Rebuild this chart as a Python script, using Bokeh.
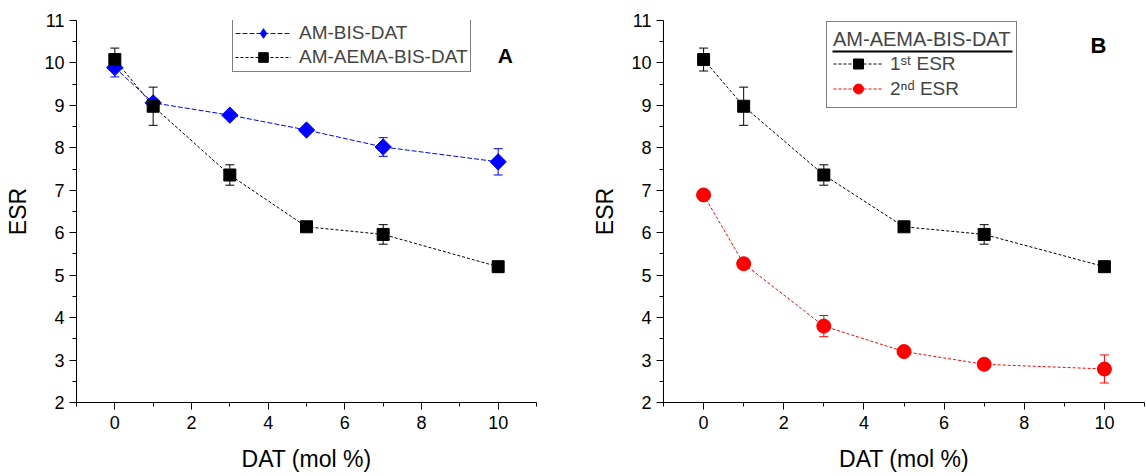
from bokeh.plotting import figure
from bokeh.layouts import row
from bokeh.models import (ColumnDataSource, Whisker, FixedTicker, Range1d, Legend,
                          LegendItem, Label, BoxAnnotation, TeeHead)
from bokeh.embed import file_html
from bokeh.resources import INLINE

# ---------------- data ----------------
dat = [0, 1, 3, 5, 7, 10]

bis_esr = [9.89, 9.06, 8.77, 8.42, 8.02, 7.67]
bis_err = [0.22, 0.10, 0.07, 0.08, 0.22, 0.31]

aema_esr = [10.08, 8.98, 7.36, 6.14, 5.96, 5.20]
aema_err = [0.27, 0.45, 0.24, 0.10, 0.23, 0.12]

second_esr = [6.89, 5.27, 3.80, 3.20, 2.90, 2.79]
second_err = [0.08, 0.10, 0.25, 0.08, 0.06, 0.33]

x_major = [0, 2, 4, 6, 8, 10]
x_minor = [-1, 1, 3, 5, 7, 9, 11]
y_major = [2, 3, 4, 5, 6, 7, 8, 9, 10, 11]
y_minor = [2.5, 3.5, 4.5, 5.5, 6.5, 7.5, 8.5, 9.5, 10.5]

FONT = "Liberation Sans"


def src(vals, errs):
    return ColumnDataSource(dict(
        x=dat, y=vals,
        upper=[v + e for v, e in zip(vals, errs)],
        lower=[v - e for v, e in zip(vals, errs)],
    ))


def make_fig(width, height, bl, br, bt, bb):
    p = figure(width=width, height=height, x_range=Range1d(-1, 11), y_range=Range1d(2, 11),
               output_backend="svg", toolbar_location=None,
               min_border_left=bl, min_border_right=br, min_border_top=bt, min_border_bottom=bb,
               x_axis_label="DAT (mol %)", y_axis_label="ESR")
    p.outline_line_color = None
    p.grid.visible = False
    p.background_fill_color = "white"
    p.border_fill_color = "white"
    p.xaxis.ticker = FixedTicker(ticks=x_major, minor_ticks=x_minor)
    p.yaxis.ticker = FixedTicker(ticks=y_major, minor_ticks=y_minor)
    for ax in (p.xaxis, p.yaxis):
        ax.axis_line_color = "black"
        ax.axis_line_width = 1
        ax.major_tick_line_color = "black"
        ax.minor_tick_line_color = "black"
        ax.major_tick_in = 0
        ax.minor_tick_in = 0
        ax.major_label_text_font = FONT
        ax.major_label_text_font_size = "18px"
        ax.major_label_text_color = "black"
        ax.axis_label_text_font = FONT
        ax.axis_label_text_font_size = "23px"
        ax.axis_label_text_font_style = "normal"
        ax.axis_label_text_color = "black"
        ax.axis_label_text_line_height = 1.0
        ax.major_label_text_line_height = 1.0
    p.xaxis.major_tick_out = 7
    p.xaxis.minor_tick_out = 4
    p.yaxis.major_tick_out = 7
    p.yaxis.minor_tick_out = 4
    p.xaxis.major_label_standoff = 6
    p.yaxis.major_label_standoff = 5
    p.xaxis.axis_label_standoff = 14
    p.yaxis.axis_label_standoff = 10
    return p


def series(p, s, color, marker, size, dash, angle=0.0):
    ln = p.line("x", "y", source=s, line_color=color, line_width=1, line_dash=dash)
    wk = Whisker(source=s, base="x", upper="upper", lower="lower", line_color=color,
                 line_width=1,
                 upper_head=TeeHead(size=9, line_color=color, line_width=1),
                 lower_head=TeeHead(size=9, line_color=color, line_width=1))
    p.add_layout(wk)
    sc = p.scatter("x", "y", source=s, marker=marker, size=size, angle=angle,
                   fill_color=color, line_color=color)
    return ln, sc


# ---------------- panel A ----------------
pa = make_fig(573, 476, 76, 37, 20, 74)
bis_src = src(bis_esr, bis_err)
bl, bs = series(pa, bis_src, "#0000ff", "square", 11.5, "5 2", angle=0.785398)
al, asq = series(pa, src(aema_esr, aema_err), "black", "square", 12, "3 2")
# hidden diamond renderer used only as the legend key
bis_key = pa.scatter("x", "y", source=bis_src, marker="diamond", size=16,
                     fill_color="#0000ff", line_color="#0000ff", visible=False)

leg_a = Legend(items=[LegendItem(label="AM-BIS-DAT", renderers=[bl, bis_key]),
                      LegendItem(label="AM-AEMA-BIS-DAT", renderers=[al, asq])],
               location=(156, 330), label_text_font=FONT, label_text_font_size="19px",
               glyph_width=56, glyph_height=24, label_height=22, spacing=0, padding=2,
               label_standoff=8, margin=0, border_line_color="black", border_line_width=1,
               background_fill_color="white", background_fill_alpha=1)
pa.add_layout(leg_a)
pa.add_layout(Label(x=10.19, y=10.18, text="A", text_font=FONT, text_font_size="21px",
                    text_font_style="bold", text_align="center", text_baseline="alphabetic",
                    text_color="black"))

# ---------------- panel B ----------------
pb = make_fig(573, 476, 90, 2, 20, 74)
fl, fs = series(pb, src(aema_esr, aema_err), "black", "square", 12, "3 2")
sl, ss = series(pb, src(second_esr, second_err), "#ff0000", "circle", 14, "3 2")

leg_b = Legend(items=[LegendItem(label="1ˢᵗ ESR", renderers=[fl, fs]),
                      LegendItem(label="2ⁿᵈ ESR", renderers=[sl, ss])],
               title="AM-AEMA-BIS-DAT", title_text_font=FONT, title_text_font_size="20px",
               title_text_font_style="normal", title_standoff=0,
               location=(163, 294), label_text_font=FONT, label_text_font_size="19px",
               glyph_width=50, glyph_height=25, label_height=22, spacing=0, padding=6,
               label_standoff=7, margin=0, border_line_color="black", border_line_width=1,
               background_fill_color="white", background_fill_alpha=0)
pb.add_layout(leg_b)
pb.add_layout(BoxAnnotation(left=259, right=439, top=50, bottom=52,
                            left_units="canvas", right_units="canvas",
                            top_units="canvas", bottom_units="canvas",
                            fill_color="black", fill_alpha=1, line_color=None, line_width=0,
                            level="overlay"))
pb.add_layout(Label(x=9.85, y=10.41, text="B", text_font=FONT, text_font_size="22px",
                    text_font_style="bold", text_align="center", text_baseline="alphabetic",
                    text_color="black"))

layout = row(pa, pb, spacing=0)
open("out.html", "w").write(file_html(layout, INLINE))
